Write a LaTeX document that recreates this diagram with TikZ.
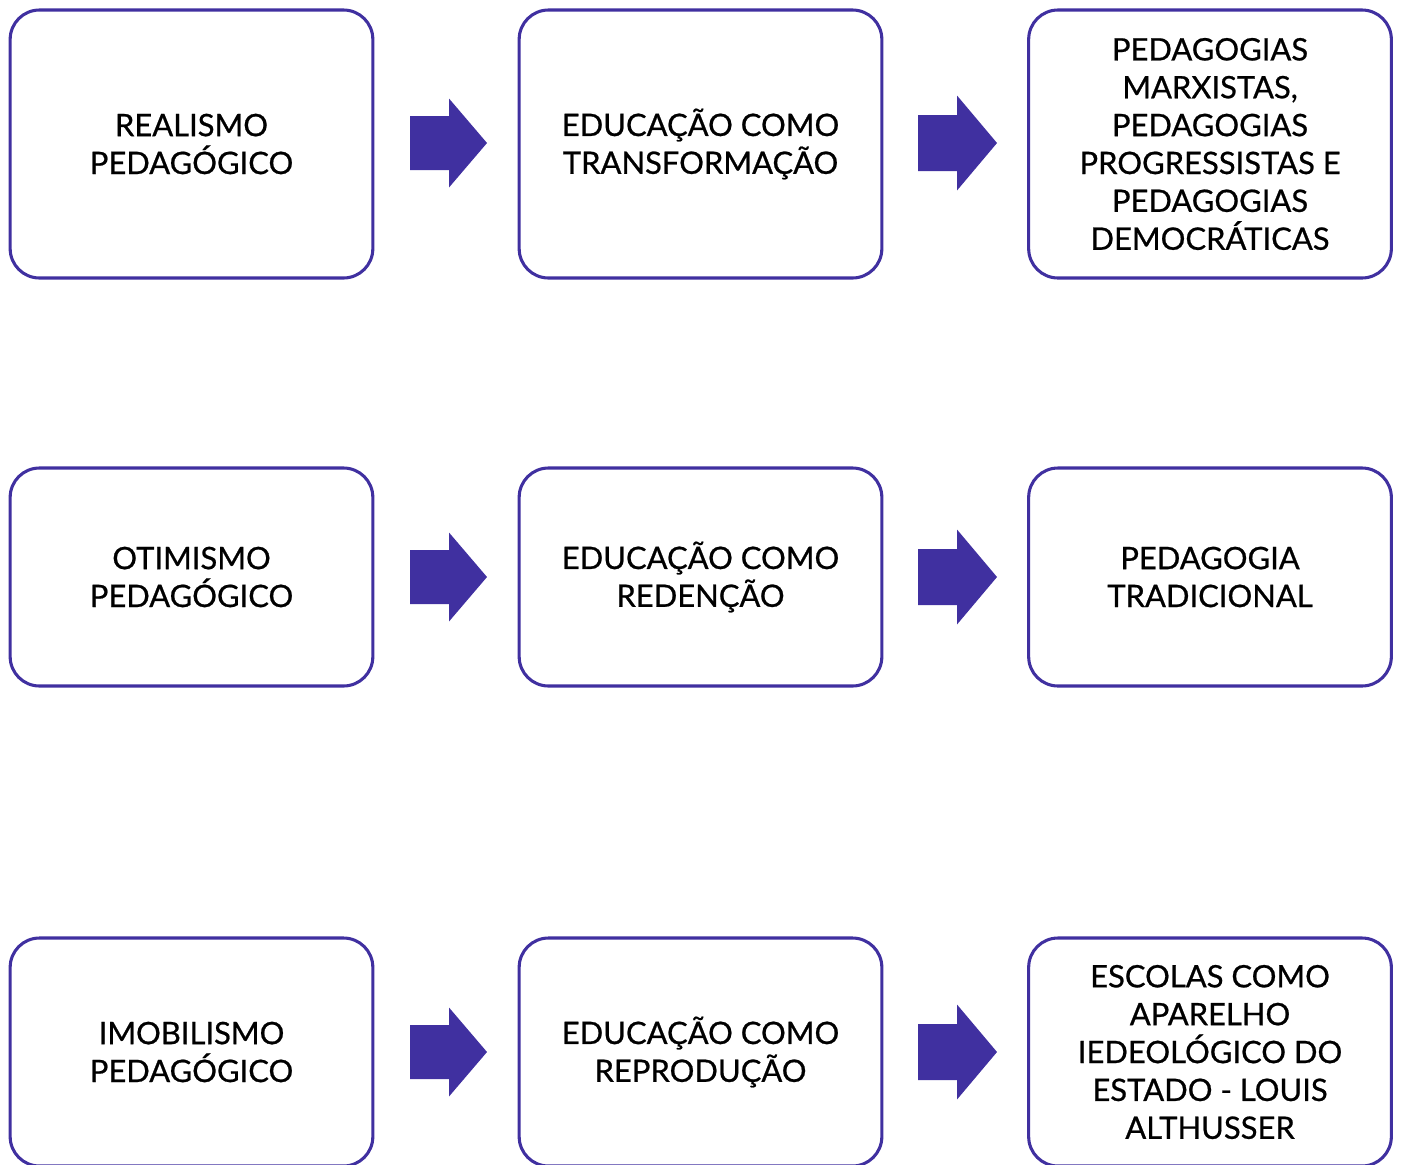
\documentclass[tikz,border=0pt]{standalone}
\usepackage{fontspec}
\setmainfont{Lato}[FakeBold=0.7]
\definecolor{pur}{RGB}{64,48,160}
\tikzset{
  box/.style={draw=pur, line width=2.3pt, rounded corners=22pt, minimum width=272pt, align=center, inner sep=0pt, font=\fontsize{23.2}{28.4}\selectfont, text=black},
  barrow/.style={fill=pur, draw=none}
}
\begin{document}
\begin{tikzpicture}[x=0.75pt,y=-0.75pt]
\useasboundingbox (0,0) rectangle (1402,1164);
% row 1
\node[box, minimum height=201pt] (a1) at (191.5,144) {REALISMO\\PEDAGÓGICO};
\node[box, minimum height=201pt] (a2) at (700.5,144) {EDUCAÇÃO COMO\\TRANSFORMAÇÃO};
\node[box, minimum height=201pt] (a3) at (1210,144) {PEDAGOGIAS\\MARXISTAS,\\PEDAGOGIAS\\PROGRESSISTAS E\\PEDAGOGIAS\\DEMOCRÁTICAS};
% row 2
\node[box, minimum height=163.5pt] (b1) at (191.5,577) {OTIMISMO\\PEDAGÓGICO};
\node[box, minimum height=163.5pt] (b2) at (700.5,577) {EDUCAÇÃO COMO\\REDENÇÃO};
\node[box, minimum height=163.5pt] (b3) at (1210,577) {PEDAGOGIA\\TRADICIONAL};
% row 3
\node[box, minimum height=171pt] (c1) at (191.5,1052) {IMOBILISMO\\PEDAGÓGICO};
\node[box, minimum height=171pt] (c2) at (700.5,1052) {EDUCAÇÃO COMO\\REPRODUÇÃO};
\node[box, minimum height=171pt] (c3) at (1210,1052) {ESCOLAS COMO\\APARELHO\\IEDEOLÓGICO DO\\ESTADO - LOUIS\\ALTHUSSER};
% block arrows
\foreach \yc in {143,577,1052}{
  \fill[pur] (410,\yc-27) -- (449,\yc-27) -- (449,\yc-44.5) -- (487,\yc) -- (449,\yc+44.5) -- (449,\yc+27) -- (410,\yc+27) -- cycle;
  \fill[pur] (918,\yc-28) -- (957,\yc-28) -- (957,\yc-47.5) -- (997,\yc) -- (957,\yc+47.5) -- (957,\yc+28) -- (918,\yc+28) -- cycle;
}
\end{tikzpicture}
\end{document}
